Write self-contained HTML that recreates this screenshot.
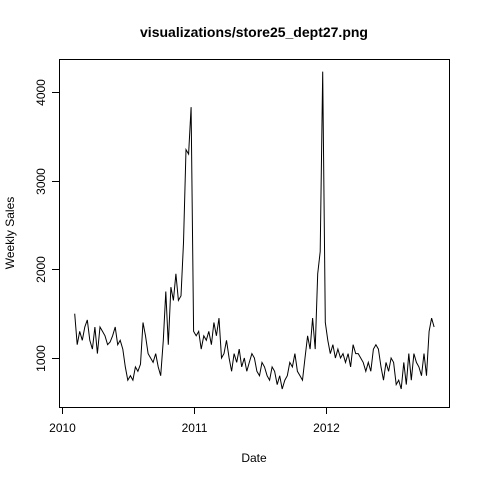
<!DOCTYPE html>
<html><head><meta charset="utf-8"><style>body{margin:0;background:#fff}svg{display:block;font-family:"Liberation Sans",sans-serif}</style></head>
<body>
<svg id="chart" width="480" height="480" viewBox="0 0 480 480">
<rect width="480" height="480" fill="#fff"/>
<text x="254" y="37" text-anchor="middle" font-weight="bold" font-size="14">visualizations/store25_dept27.png</text>
<text x="254" y="462" text-anchor="middle" font-size="12">Date</text>
<text transform="translate(14,233) rotate(-90)" text-anchor="middle" font-size="12">Weekly Sales</text>
<rect x="59.5" y="59.5" width="390" height="348" fill="none" stroke="#000"/>
<g id="axes"></g>
<path id="line" fill="none" stroke="#000" stroke-width="1"/>
</svg>
<script>
const xTickLabels=["2010","2011","2012"];
const yTickLabels=[1000,2000,3000,4000];
const startDate="2010-02-05";
const sales=[1500,1150,1300,1200,1350,1430,1200,1100,1350,1050,
1350,1300,1250,1150,1180,1250,1350,1150,1200,1100,
900,750,800,750,900,850,930,1400,1250,1050,
1000,950,1050,900,800,1200,1750,1150,1800,1650,
1950,1650,1700,2300,3350,3300,3830,1300,
1250,1300,1100,1250,1200,1300,1150,1400,1250,1450,
1000,1050,1200,1000,850,1050,950,1100,900,1000,
850,950,1050,1000,850,800,950,900,800,750,
900,850,700,800,650,750,800,950,900,1050,
850,800,750,1000,1250,1100,1450,1100,1950,2200,4230,
1400,1200,1050,1150,1000,1100,1000,1050,950,1050,
900,1150,1050,1050,1000,950,850,950,850,1100,
1150,1100,900,750,950,850,1000,950,700,750,
650,950,700,1050,750,1050,950,900,800,1050,
800,1300,1450,1350];
const DAY=86400000, t0=Date.UTC(2010,0,1);
function xs(ms){return 62+(ms-t0)/DAY*(132/365);}
function ys(v){return 358-(v-1000)*(266/3000);}
const ns="http://www.w3.org/2000/svg";
const axes=document.getElementById('axes');
const s0=Date.parse(startDate+"T00:00:00Z");
let d="";
sales.forEach((v,i)=>{d+=(i?"L":"M")+xs(s0+i*7*DAY).toFixed(1)+","+ys(v).toFixed(1);});
document.getElementById('line').setAttribute('d',d);
function add(tag,attrs,txt){const e=document.createElementNS(ns,tag);for(const k in attrs)e.setAttribute(k,attrs[k]);if(txt)e.textContent=txt;axes.appendChild(e);return e;}
let xl=add('line',{x1:xs(Date.UTC(2010,0,1)),x2:xs(Date.UTC(2012,0,1)),y1:407.5,y2:407.5,stroke:'#000'});


xTickLabels.forEach(l=>{const x=Math.round(xs(Date.UTC(+l,0,1)))+0.5;
 const t=add('line',{x1:x,x2:x,y1:407,y2:414,stroke:'#000'});
 
 
 const tx=add('text',{x:x,y:432,'text-anchor':'middle','font-size':12},l);
 
 });
let yl=add('line',{x1:59.5,x2:59.5,y1:ys(1000),y2:ys(4000),stroke:'#000'});


yTickLabels.forEach(v=>{const y=Math.round(ys(v))+0.5;
 const t=add('line',{x1:52,x2:59,y1:y,y2:y,stroke:'#000'});
 
 
 const tx=add('text',{transform:`translate(45,${y}) rotate(-90)`,'text-anchor':'middle','font-size':12},String(v));
 
 });
</script>
</body></html>
